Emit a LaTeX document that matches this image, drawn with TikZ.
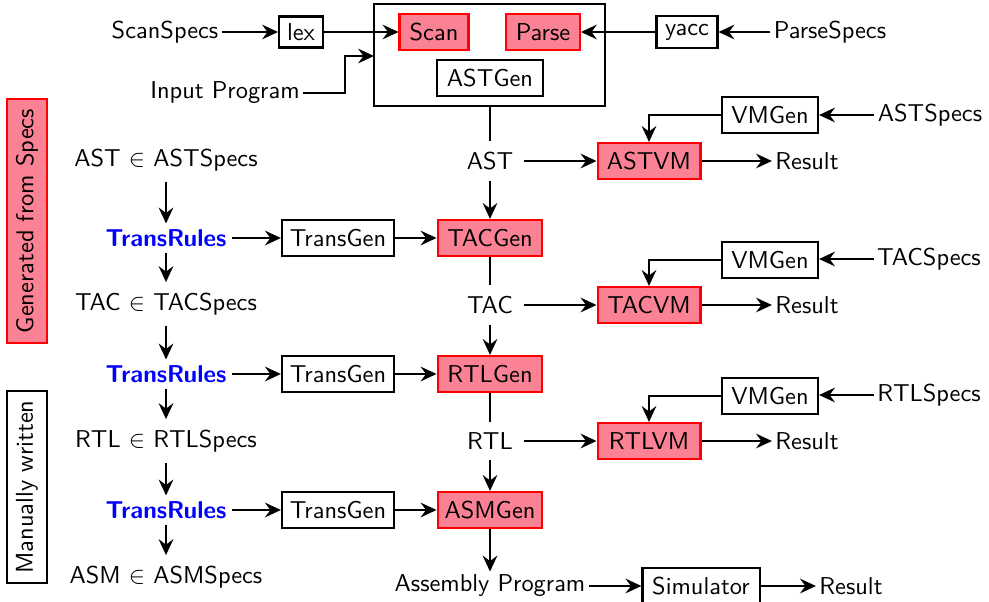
\documentclass[tikz,border=0pt]{standalone}
\usetikzlibrary{arrows.meta,positioning,calc}
\definecolor{boxred}{RGB}{250,130,148}
\begin{document}
\begin{tikzpicture}[x=0.41pt,y=-0.41pt,
  font=\sffamily,
  every path/.style={line width=0.85pt},
  >={Stealth[length=6.5pt,width=6pt,inset=2.2pt]},
  txt/.style={inner sep=1pt},
  mid/.style={inner sep=4pt},
  wbox/.style={draw=black,line width=0.85pt,inner sep=2pt,minimum height=14.8pt},
  rbox/.style={draw=red,fill=boxred,line width=0.85pt,inner sep=2pt,minimum height=14.8pt},
  rules/.style={text=blue,font=\sffamily\bfseries,inner sep=2pt}]
\useasboundingbox (0,0) rectangle (989,602);

% top
\node[draw,line width=0.85pt,minimum width=94.7pt,minimum height=41.8pt,inner sep=0pt] (big) at (489.5,55) {};
\node[txt] (scanspecs) at (165,32) {ScanSpecs};
\node[wbox,minimum width=18pt,minimum height=12.7pt] (lex) at (301,32) {lex};
\node[rbox,minimum width=28.3pt] (scan) at (434,32) {Scan};
\node[rbox,minimum width=30.3pt] (parse) at (543,32) {Parse};
\node[wbox,minimum width=43.5pt,minimum height=14.4pt] (astgen) at (490,78) {ASTGen};
\node[wbox,minimum width=25pt,minimum height=13pt] (yacc) at (687,32) {yacc};
\node[txt] (parsespecs) at (830,32) {ParseSpecs};
\node[txt] (input) at (225,93) {Input Program};
\coordinate (ipbend) at (345,0);
\coordinate (ipin) at (374,56);

\draw[->] (scanspecs) -- (lex);
\draw[->] (lex) -- (scan);
\draw[->] (parsespecs) -- (yacc);
\draw[->] (yacc) -- (parse);
\draw[->] (input.east) -- (input.east -| ipbend) |- (ipin);

% side labels
\node[draw=red,fill=boxred,line width=0.85pt,rotate=90,minimum width=100pt,minimum height=16.4pt,inner sep=1pt] (gen) at (27,221) {Generated from Specs};
\node[draw,line width=0.85pt,rotate=90,minimum width=79pt,minimum height=16.4pt,inner sep=1pt] (man) at (27,487) {Manually written};

% left column
\node[mid] (astin) at (166,160) {AST $\in$ ASTSpecs};
\node[rules] (tr1) at (166,238) {TransRules};
\node[mid] (tacin) at (166,304) {TAC $\in$ TACSpecs};
\node[rules] (tr2) at (166,374) {TransRules};
\node[mid] (rtlin) at (166,441) {RTL $\in$ RTLSpecs};
\node[rules] (tr3) at (166,510) {TransRules};
\node[mid] (asmin) at (166,577) {ASM $\in$ ASMSpecs};
\draw[->] (astin) -- (tr1);
\draw[->] (tr1) -- (tacin);
\draw[->] (tacin) -- (tr2);
\draw[->] (tr2) -- (rtlin);
\draw[->] (rtlin) -- (tr3);
\draw[->] (tr3) -- (asmin);

% transgen
\node[wbox,minimum width=46pt] (tg1) at (338,238) {TransGen};
\node[wbox,minimum width=46pt] (tg2) at (338,374) {TransGen};
\node[wbox,minimum width=46pt] (tg3) at (338,510) {TransGen};

% middle column
\node[mid] (ast) at (490,161) {AST};
\node[rbox,minimum width=43pt] (tacgen) at (490,238) {TACGen};
\node[mid] (tac) at (490,305) {TAC};
\node[rbox,minimum width=43pt] (rtlgen) at (490,374) {RTLGen};
\node[mid] (rtl) at (490,441) {RTL};
\node[rbox,minimum width=43pt] (asmgen) at (490,510) {ASMGen};
\node[txt] (asmprog) at (490,586) {Assembly Program};

\draw (big.south -| ast) -- (ast);
\draw[->] (ast) -- (tacgen);
\draw (tacgen) -- (tac);
\draw[->] (tac) -- (rtlgen);
\draw (rtlgen) -- (rtl);
\draw[->] (rtl) -- (asmgen);
\draw[->] (asmgen) -- (asmprog);

\draw[->] (tr1) -- (tg1);
\draw[->] (tg1) -- (tacgen);
\draw[->] (tr2) -- (tg2);
\draw[->] (tg2) -- (rtlgen);
\draw[->] (tr3) -- (tg3);
\draw[->] (tg3) -- (asmgen);

% VMs
\node[rbox,minimum width=42.2pt] (astvm) at (649,161) {ASTVM};
\node[wbox,minimum width=39.4pt] (vm1) at (770,115) {VMGen};
\node[txt] (astspecs) at (930,115) {ASTSpecs};
\node[txt] (res1) at (807,161) {Result};

\node[rbox,minimum width=42.2pt] (tacvm) at (649,305) {TACVM};
\node[wbox,minimum width=39.4pt] (vm2) at (770,260) {VMGen};
\node[txt] (tacspecs) at (929,259) {TACSpecs};
\node[txt] (res2) at (807,305) {Result};

\node[rbox,minimum width=42.2pt] (rtlvm) at (649,441) {RTLVM};
\node[wbox,minimum width=39.4pt] (vm3) at (770,396) {VMGen};
\node[txt] (rtlspecs) at (929,395) {RTLSpecs};
\node[txt] (res3) at (807,441) {Result};

\draw[->] (ast) -- (astvm);
\draw[->] (astvm) -- (res1);
\draw[->] (astspecs) -- (vm1);
\draw[->] (vm1.west) -| (astvm.north);

\draw[->] (tacspecs.west) -- (tacspecs.west -| vm2.east);
\draw[->] (tac) -- (tacvm);
\draw[->] (tacvm) -- (res2);
\draw[->] (vm2.west) -| (tacvm.north);

\draw[->] (rtlspecs.west) -- (rtlspecs.west -| vm3.east);
\draw[->] (rtl) -- (rtlvm);
\draw[->] (rtlvm) -- (res3);
\draw[->] (vm3.west) -| (rtlvm.north);

% simulator
\node[wbox,minimum width=48pt] (sim) at (701,586) {Simulator};
\node[txt] (res4) at (851,586) {Result};
\draw[->] (asmprog) -- (sim);
\draw[->] (sim) -- (res4);
\end{tikzpicture}
\end{document}
